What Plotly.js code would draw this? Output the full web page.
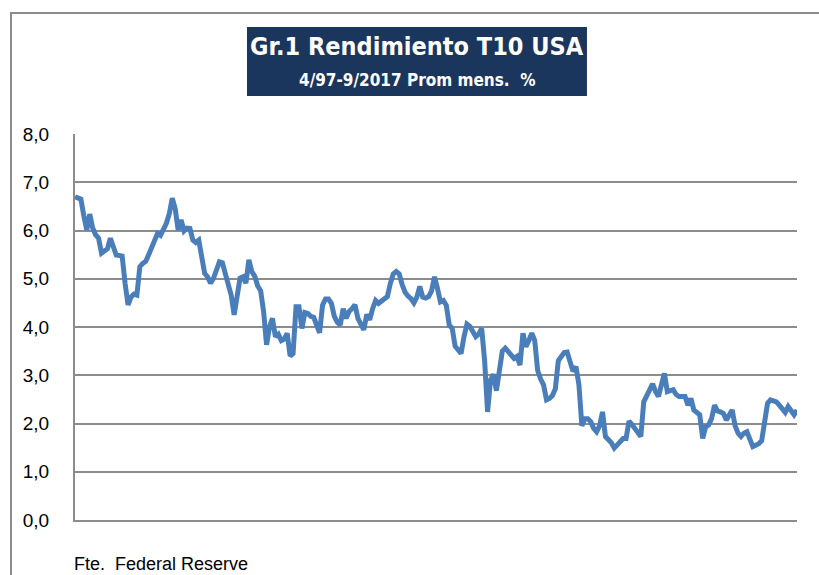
<!DOCTYPE html>
<html>
<head>
<meta charset="utf-8">
<script src="https://cdn.plot.ly/plotly-3.0.1.min.js"></script>
<style>
  html, body { margin: 0; padding: 0; background: #ffffff; }
  #wrap { position: relative; width: 819px; height: 575px; overflow: hidden; }
  #chart { position: absolute; left: 0; top: 0; width: 819px; height: 575px; }
  #frame { position: absolute; left: 10px; top: 12px; width: 900px; height: 700px;
           border-left: 2px solid #8c8c8c; border-top: 2px solid #8c8c8c; pointer-events: none; }
</style>
</head>
<body>
<div id="wrap">
  <div id="chart"></div>
  <div id="frame"></div>
</div>
<script>
// Monthly average 10-year US Treasury yield (%), April 1997 - September 2017
const startYear = 1997;
const startMonth = 4;
const y1997 = [6.70, 6.68, 6.65, 6.30, 6.01, 6.34, 6.05, 5.91, 5.84];
const y1998 = [5.53, 5.58, 5.62, 5.84, 5.65, 5.49, 5.48, 5.47, 4.90, 4.46, 4.62, 4.68];
const y1999 = [4.66, 5.25, 5.32, 5.36, 5.50, 5.65, 5.82, 5.94, 5.90, 6.02, 6.15, 6.35];
const y2000 = [6.67, 6.45, 6.01, 6.22, 5.99, 6.05, 6.04, 5.80, 5.75, 5.80, 5.50, 5.11];
const y2001 = [5.04, 4.91, 5.01, 5.20, 5.35, 5.33, 5.08, 4.90, 4.66, 4.25, 4.70, 5.01];
const y2002 = [5.04, 4.91, 5.39, 5.15, 5.05, 4.85, 4.75, 4.32, 3.63, 4.00, 4.18, 3.80];
const y2003 = [3.85, 3.72, 3.75, 3.87, 3.40, 3.45, 4.42, 4.42, 3.97, 4.30, 4.28, 4.22];
const y2004 = [4.20, 4.00, 3.88, 4.45, 4.58, 4.58, 4.49, 4.22, 4.10, 4.04, 4.38, 4.18];
const y2005 = [4.32, 4.38, 4.46, 4.18, 4.05, 3.94, 4.26, 4.15, 4.38, 4.55, 4.49, 4.53];
const y2006 = [4.59, 4.63, 4.90, 5.10, 5.15, 5.10, 4.88, 4.72, 4.64, 4.59, 4.50, 4.62];
const y2007 = [4.84, 4.62, 4.60, 4.63, 4.75, 5.04, 4.80, 4.52, 4.55, 4.45, 4.04, 3.97];
const y2008 = [3.60, 3.52, 3.45, 3.80, 4.06, 4.01, 3.88, 3.80, 3.85, 3.97, 3.30, 2.24];
const y2009 = [2.90, 3.02, 2.68, 3.20, 3.50, 3.56, 3.48, 3.42, 3.35, 3.39, 3.21, 3.87];
const y2010 = [3.59, 3.72, 3.87, 3.72, 3.10, 2.92, 2.80, 2.49, 2.52, 2.58, 2.72, 3.30];
const y2011 = [3.38, 3.47, 3.48, 3.30, 3.08, 3.18, 2.80, 1.95, 2.10, 2.10, 2.04, 1.90];
const y2012 = [1.83, 1.95, 2.24, 1.73, 1.66, 1.60, 1.49, 1.55, 1.62, 1.69, 1.69, 2.05];
const y2013 = [1.98, 1.90, 1.82, 1.73, 2.45, 2.58, 2.65, 2.82, 2.66, 2.56, 2.80, 3.04];
const y2014 = [2.66, 2.68, 2.70, 2.60, 2.56, 2.56, 2.56, 2.38, 2.52, 2.28, 2.22, 2.18];
const y2015 = [1.69, 1.93, 1.97, 2.10, 2.38, 2.26, 2.24, 2.21, 2.07, 2.20, 2.28, 1.95];
const y2016 = [1.80, 1.73, 1.80, 1.83, 1.70, 1.52, 1.55, 1.58, 1.64, 2.00, 2.42, 2.49];
const y2017 = [2.47, 2.45, 2.38, 2.30, 2.23, 2.35, 2.28, 2.18, 2.28];

const yTicks = [0, 1, 2, 3, 4, 5, 6, 7, 8];
const titleLine1 = "Gr.1 Rendimiento T10 USA";
const titleLine2 = "4/97-9/2017 Prom mens.&nbsp;&nbsp;%";
const sourceText = "Fte.&nbsp;&nbsp;Federal Reserve";

const values = [].concat(y1997, y1998, y1999, y2000, y2001, y2002, y2003, y2004, y2005,
  y2006, y2007, y2008, y2009, y2010, y2011, y2012, y2013, y2014, y2015, y2016, y2017);

const months = values.map((v, i) => {
  const m0 = startMonth - 1 + i;
  const yy = startYear + Math.floor(m0 / 12);
  const mm = (m0 % 12) + 1;
  return yy + "-" + (mm < 10 ? "0" + mm : mm);
});

const trace = {
  x: months,
  y: values,
  type: "scatter",
  mode: "lines",
  line: { color: "rgb(74,126,187)", width: 5 },
  hoverinfo: "x+y",
  showlegend: false
};

const layout = {
  width: 819,
  height: 575,
  margin: { l: 75, r: 22, t: 134, b: 55 },
  paper_bgcolor: "#ffffff",
  plot_bgcolor: "#ffffff",
  separators: ",.",
  font: { family: "Liberation Sans, Arial, sans-serif", color: "#000000" },
  xaxis: {
    type: "category",
    range: [0, values.length - 1],
    showticklabels: false,
    showgrid: false,
    zeroline: false,
    showline: true,
    linecolor: "#8c8c8c",
    linewidth: 2,
    ticks: ""
  },
  yaxis: {
    range: [0, 8],
    tickvals: yTicks,
    tickformat: ".1f",
    showgrid: true,
    gridcolor: "#8c8c8c",
    gridwidth: 2,
    zeroline: false,
    showline: true,
    linecolor: "#8c8c8c",
    linewidth: 2,
    ticks: "",
    ticklabelstandoff: 20,
    tickfont: { size: 19, family: "Liberation Sans, Arial, sans-serif", color: "#000000" }
  },
  shapes: [{
    type: "rect", xref: "paper", yref: "paper",
    x0: 0.2382, x1: 0.7091, y0: 1.0984, y1: 1.2772,
    fillcolor: "#1b365d", line: { width: 0 }, layer: "above"
  }],
  annotations: [
    {
      text: "<b>" + titleLine1 + "</b>", xref: "paper", yref: "paper",
      x: 0.4737, y: 1.2254, xanchor: "center", yanchor: "middle", showarrow: false,
      font: { size: 25, color: "#ffffff", family: "Liberation Sans Narrow, DejaVu Sans Condensed, Arial Narrow, sans-serif" }
    },
    {
      text: "<b>" + titleLine2 + "</b>", xref: "paper", yref: "paper",
      x: 0.4737, y: 1.1399, xanchor: "center", yanchor: "middle", showarrow: false,
      font: { size: 17, color: "#ffffff", family: "Liberation Sans Narrow, DejaVu Sans Condensed, Arial Narrow, sans-serif" }
    },
    {
      text: sourceText, xref: "paper", yref: "paper",
      x: -0.004, y: -0.083, xanchor: "left", yanchor: "top", showarrow: false,
      font: { size: 18, color: "#000000", family: "Liberation Sans, Arial, sans-serif" }
    }
  ]
};

Plotly.newPlot("chart", [trace], layout, { displayModeBar: false, staticPlot: true });
</script>
</body>
</html>
